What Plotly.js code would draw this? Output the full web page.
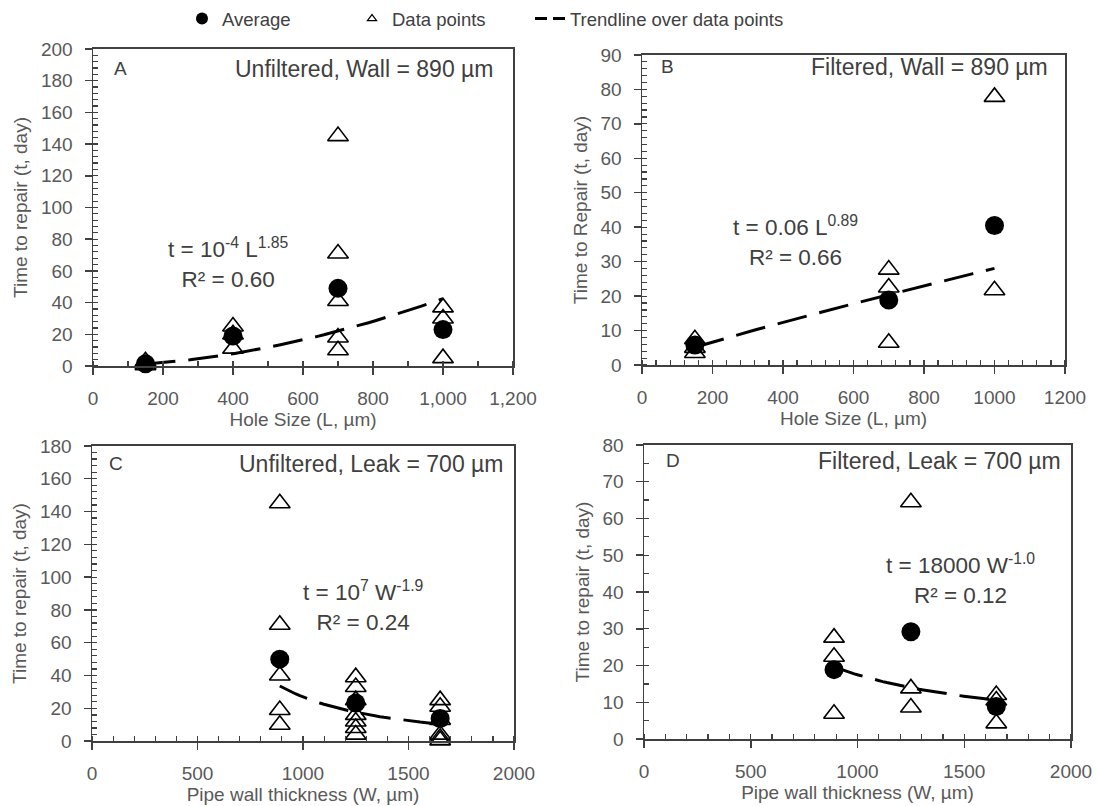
<!DOCTYPE html>
<html>
<head>
<meta charset="utf-8">
<script src="https://cdn.plot.ly/plotly-3.0.1.min.js"></script>
<style>html,body{margin:0;padding:0;background:#fff;}#chart{width:1097px;height:806px;}</style>
</head>
<body>
<div id="chart"></div>
<script>
// ---------- Data ----------
// Panel A: Unfiltered, Wall = 890 µm  (x = hole size L, µm)
const holeA_L = [150, 150, 150, 400, 400, 400, 700, 700, 700, 700, 700, 1000, 1000, 1000];
const holeA_t = [3, 1, 0.5, 25, 20, 11, 145, 71, 41, 18, 10, 37, 30, 5];
const avgA_L = [150, 400, 700, 1000];
const avgA_t = [1.5, 19, 49, 23];
// Panel B: Filtered, Wall = 890 µm
const holeB_L = [150, 150, 150, 700, 700, 700, 1000, 1000];
const holeB_t = [7.5, 5, 3.5, 27.7, 22.5, 6.5, 77.8, 21.7];
const avgB_L = [150, 700, 1000];
const avgB_t = [5.8, 18.9, 40.5];
// Panel C: Unfiltered, Leak = 700 µm  (x = pipe wall thickness W, µm)
const wallC_W = [890, 890, 890, 890, 890, 1250, 1250, 1250, 1250, 1250, 1250, 1250, 1650, 1650, 1650, 1650, 1650, 1650];
const wallC_t = [145, 71, 40, 19, 10, 39, 33, 25, 16, 12, 8, 4, 25, 21, 13, 4, 2, 0.5];
const avgC_W = [890, 1250, 1650];
const avgC_t = [50, 23.3, 13.8];
// Panel D: Filtered, Leak = 700 µm
const wallD_W = [890, 890, 890, 1250, 1250, 1250, 1650, 1650, 1650];
const wallD_t = [27.6, 22.4, 6.9, 64.4, 13.8, 8.6, 12, 10.5, 4.3];
const avgD_W = [890, 1250, 1650];
const avgD_t = [18.9, 29.2, 8.9];
// Power-law trendlines t = a * x^b over the data range
const trendA = {a: 1.2e-4, b: 1.85, from: 150, to: 1000};
const trendB = {a: 0.06, b: 0.89, from: 150, to: 1000};
const trendC = {a: 1.35e7, b: -1.9, from: 890, to: 1650};
const trendD = {a: 17500, b: -1.0, from: 890, to: 1650};
// Text
const panelLetters = ['A', 'B', 'C', 'D'];
const panelNotes = ['Unfiltered, Wall = 890 µm', 'Filtered, Wall = 890 µm', 'Unfiltered, Leak = 700 µm', 'Filtered, Leak = 700 µm'];
const equations = ['t = 10<sup>-4</sup> L<sup>1.85</sup><br>R² = 0.60', 't = 0.06 L<sup>0.89</sup><br>R² = 0.66',
                   't = 10<sup>7</sup> W<sup>-1.9</sup><br>R² = 0.24', 't = 18000 W<sup>-1.0</sup><br>R² = 0.12'];
const legendNames = ['Average', 'Data points', 'Trendline over data points'];

// ---------- Build ----------
const W = 1097, H = 806;
const FONT = 'Liberation Sans, Arial, sans-serif';
const px = x => x / W;
const py = y => 1 - y / H;

function curve(tr) {
  const xs = [], ys = [];
  const n = 40;
  for (let i = 0; i <= n; i++) {
    const x = tr.from + (tr.to - tr.from) * i / n;
    xs.push(x); ys.push(tr.a * Math.pow(x, tr.b));
  }
  return {xs, ys};
}

const panels = [
  {xa: 'x', ya: 'y', pts: [holeA_L, holeA_t], avg: [avgA_L, avgA_t], tr: trendA},
  {xa: 'x2', ya: 'y2', pts: [holeB_L, holeB_t], avg: [avgB_L, avgB_t], tr: trendB},
  {xa: 'x3', ya: 'y3', pts: [wallC_W, wallC_t], avg: [avgC_W, avgC_t], tr: trendC},
  {xa: 'x4', ya: 'y4', pts: [wallD_W, wallD_t], avg: [avgD_W, avgD_t], tr: trendD}
];

const traces = [];
panels.forEach(p => {
  traces.push({x: p.pts[0], y: p.pts[1], xaxis: p.xa, yaxis: p.ya, type: 'scatter', mode: 'markers',
    showlegend: false, cliponaxis: false,
    marker: {symbol: 'triangle-up-open', size: 18, color: '#000', line: {width: 1.6, color: '#000'}}});
  const c = curve(p.tr);
  traces.push({x: c.xs, y: c.ys, xaxis: p.xa, yaxis: p.ya, type: 'scatter', mode: 'lines',
    showlegend: false, line: {color: '#000', width: 3, dash: '30px,13px'}});
  traces.push({x: p.avg[0], y: p.avg[1], xaxis: p.xa, yaxis: p.ya, type: 'scatter', mode: 'markers',
    showlegend: false, cliponaxis: false,
    marker: {symbol: 'circle', size: 19, color: '#000'}});
});
// legend-only entries
traces.push({x: [null], y: [null], type: 'scatter', mode: 'markers', name: legendNames[0], legend: 'legend',
  marker: {symbol: 'circle', size: 12, color: '#000'}});
traces.push({x: [null], y: [null], type: 'scatter', mode: 'markers', name: legendNames[1], legend: 'legend2',
  marker: {symbol: 'triangle-up-open', size: 8, color: '#000', line: {width: 1.2, color: '#000'}}});
traces.push({x: [null], y: [null], type: 'scatter', mode: 'lines', name: legendNames[2], legend: 'legend3',
  line: {color: '#000', width: 3, dash: '12px,6px'}});

const tickFont = {family: FONT, size: 19, color: '#595959'};
const titleFont = {family: FONT, size: 19, color: '#595959'};

function xAxis(dom, range, dtick, minor, anchor, title, extra) {
  return Object.assign({
    domain: dom, range: range, dtick: dtick, tick0: 0, anchor: anchor, autorange: false,
    showgrid: false, zeroline: false, showline: true, mirror: true, linecolor: '#404040', linewidth: 1.5,
    ticks: 'outside', ticklen: 7, tickwidth: 1.5, tickcolor: '#404040',
    minor: {dtick: minor, tick0: 0, ticks: 'inside', ticklen: 5, tickwidth: 1.2, tickcolor: '#404040', showgrid: false},
    tickfont: tickFont, ticklabelstandoff: 8, automargin: false,
    title: {text: title, font: titleFont, standoff: 1}
  }, extra || {});
}
function yAxis(dom, range, dtick, minor, anchor, title) {
  return {
    domain: dom, range: range, dtick: dtick, tick0: 0, anchor: anchor, autorange: false,
    showgrid: false, zeroline: false, showline: true, mirror: true, linecolor: '#404040', linewidth: 1.5,
    ticks: 'outside', ticklen: 7, tickwidth: 1.5, tickcolor: '#404040',
    minor: {dtick: minor, tick0: 0, ticks: 'inside', ticklen: 5, tickwidth: 1.2, tickcolor: '#404040', showgrid: false},
    tickfont: tickFont, ticklabelstandoff: 8, automargin: false,
    title: {text: title, font: titleFont, standoff: 8}
  };
}

const dA = {x: [px(93), px(513)], y: [py(365), py(47)]};
const dB = {x: [px(642), px(1065)], y: [py(364), py(53)]};
const dC = {x: [px(92), px(514)], y: [py(741), py(445)]};
const dD = {x: [px(644), px(1071)], y: [py(739), py(444)]};

const annFont = {family: FONT, size: 23, color: '#404040'};
const eqFont = {family: FONT, size: 22.5, color: '#404040'};
const letFont = {family: FONT, size: 19, color: '#404040'};
const annotations = [];
const letterPos = [[120, 67], [667, 65], [116, 463], [673, 460]];
const notePos = [[495, 67], [1050, 65], [505, 463], [1063, 460]];
const eqPos = [[228, 262], [795, 240], [363, 606], [960, 578]];
for (let i = 0; i < 4; i++) {
  annotations.push({text: panelLetters[i], xref: 'paper', yref: 'paper', x: px(letterPos[i][0]), y: py(letterPos[i][1]),
    xanchor: 'center', yanchor: 'middle', showarrow: false, font: letFont});
  annotations.push({text: panelNotes[i], xref: 'paper', yref: 'paper', x: px(notePos[i][0]), y: py(notePos[i][1]),
    xanchor: 'right', yanchor: 'middle', showarrow: false, font: annFont});
  annotations.push({text: equations[i], xref: 'paper', yref: 'paper', x: px(eqPos[i][0]), y: py(eqPos[i][1]),
    xanchor: 'center', yanchor: 'middle', align: 'center', showarrow: false, font: eqFont});
}

const legFont = {family: FONT, size: 18.5, color: '#404040'};
const legBase = {orientation: 'h', yanchor: 'middle', xanchor: 'left', bgcolor: 'rgba(0,0,0,0)', borderwidth: 0, font: legFont};

const layout = {
  width: W, height: H, margin: {l: 0, r: 0, t: 0, b: 0},
  paper_bgcolor: '#fff', plot_bgcolor: '#fff',
  font: {family: FONT, color: '#404040'},
  xaxis: xAxis(dA.x, [0, 1200], 200, 100, 'y', 'Hole Size (L, µm)', {separatethousands: true}),
  yaxis: yAxis(dA.y, [0, 200], 20, 4, 'x', 'Time to repair (t, day)'),
  xaxis2: xAxis(dB.x, [0, 1200], 200, 40, 'y2', 'Hole Size (L, µm)'),
  yaxis2: yAxis(dB.y, [0, 90], 10, 2, 'x2', 'Time to Repair (t, day)'),
  xaxis3: xAxis(dC.x, [0, 2000], 500, 100, 'y3', 'Pipe wall thickness (W, µm)'),
  yaxis3: yAxis(dC.y, [0, 180], 20, 4, 'x3', 'Time to repair (t, day)'),
  xaxis4: xAxis(dD.x, [0, 2000], 500, 100, 'y4', 'Pipe wall thickness (W, µm)'),
  yaxis4: yAxis(dD.y, [0, 80], 10, 5, 'x4', 'Time to repair (t, day)'),
  legend: Object.assign({x: px(182), y: py(17)}, legBase),
  legend2: Object.assign({x: px(352), y: py(17)}, legBase),
  legend3: Object.assign({x: px(530), y: py(17)}, legBase),
  annotations: annotations,
  showlegend: true
};

Plotly.newPlot('chart', traces, layout, {staticPlot: true, displayModeBar: false});
</script>
</body>
</html>
